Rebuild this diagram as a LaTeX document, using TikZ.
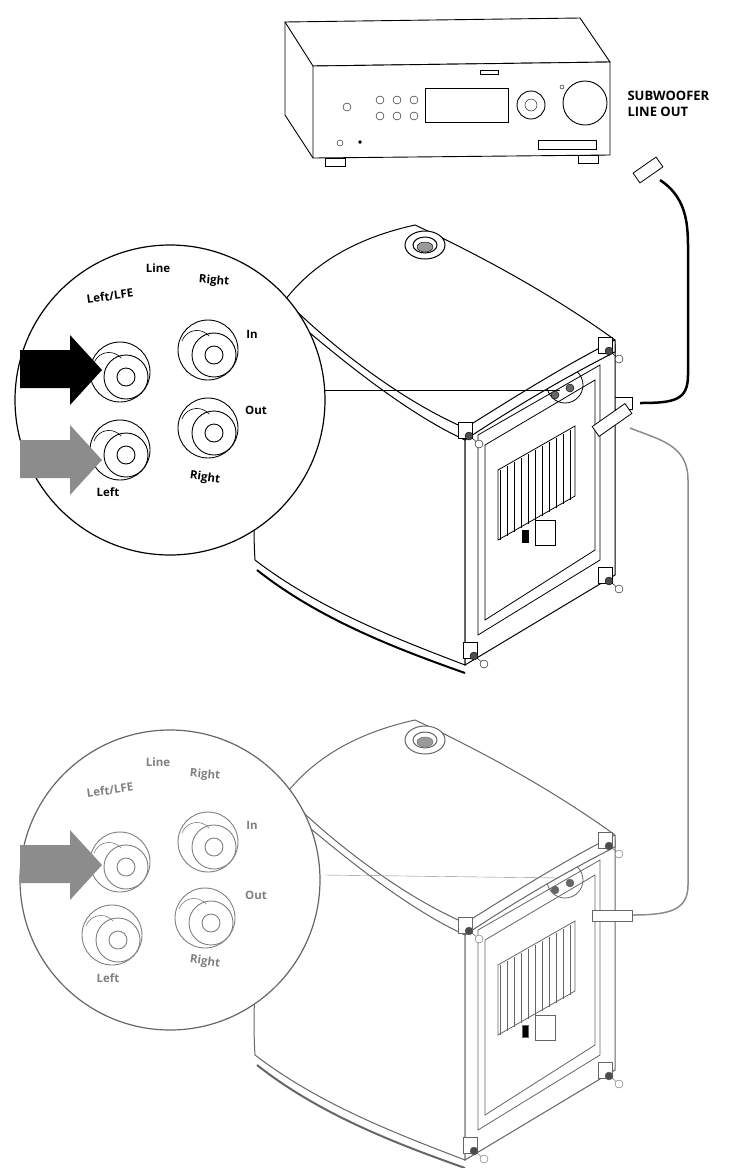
\documentclass[tikz,border=0pt]{standalone}
\usepackage{fontspec}
\setmainfont{Open Sans}
\begin{document}
\begin{tikzpicture}[x=1pt,y=-1pt,
  lbl/.style={font=\bfseries\fontsize{11.5}{13}\selectfont},
  line/.style={line width=0.8pt},
  jack/.pic={\draw[line width=0.9pt,fill=white] (0,0) circle (30);
    \draw[line width=0.9pt,fill=white] (6,5) circle (22);
    \draw[line width=0.9pt] (6,5) circle (9);
    \draw[line width=0.6pt] (-26,-9) arc (200:320:16);},
  foot/.pic={\draw[fill=white,line width=0.8pt] (-7,-8) rectangle (7,8);
    \draw[fill=black!70] (4,6) circle (4); \draw (7,8) -- (14,14); \draw[fill=white] (14,14) circle (4);},
  sub/.pic={
    \draw[line width=1pt,fill=white] (285,300) .. controls (265,400) and (250,480) .. (255,560)
      .. controls (320,610) and (400,640) .. (465,665) -- (465,430)
      .. controls (400,400) and (330,340) .. (285,300);
    \draw[line width=2pt] (257,570) .. controls (320,620) and (400,650) .. (465,673);
    \draw[line width=1pt,fill=white] (465,430) -- (615,345) -- (615,575) -- (465,665) -- cycle;
    \draw[line width=0.8pt] (478,435) -- (600,365) -- (600,560) -- (478,635) -- cycle;
    \draw[line width=0.8pt] (485,445) -- (595,380) -- (595,550) -- (485,620) -- cycle;
    \foreach \i in {0,...,10}{\draw[line width=0.6pt] (500+\i*7,470-\i*4) -- (500+\i*7,540-\i*4);}
    \draw[line width=0.8pt] (498,470) -- (575,426) -- (575,496) -- (498,540) -- cycle;
    \draw[fill=white,line width=0.8pt] (535,520) rectangle (555,545);
    \draw[fill=black] (522,530) rectangle (528,542);
    \draw[line width=0.8pt] (565,385) circle (18);
    \foreach \p in {(555,380),(570,372),(555,395),(570,388)} \draw[fill=black!60] \p circle (4);
    \draw[line width=1pt,fill=white] (285,300) .. controls (320,255) and (370,235) .. (415,225)
      .. controls (490,260) and (560,300) .. (615,340) -- (615,352)
      .. controls (560,380) and (510,410) .. (465,440)
      .. controls (400,410) and (330,350) .. (285,312) -- cycle;
    \draw[line width=1pt] (285,300) .. controls (330,345) and (400,400) .. (465,428)
      .. controls (510,400) and (560,368) .. (615,340);
    \draw[line width=1pt,fill=white] (425,245) ellipse (20 and 14);
    \draw[line width=1pt,fill=white] (425,245) ellipse (12 and 8);
    \draw[fill=black!40] (425,247) ellipse (8 and 5);
    \pic at (465,430) {foot}; \pic at (605,345) {foot};
    \pic at (605,575) {foot}; \pic at (470,650) {foot};
  }]
\useasboundingbox (0,0) rectangle (746,1168);
% receiver
\draw[line width=0.9pt,fill=white] (285,22) -- (580,18) -- (610,62) -- (313,66) -- cycle;
\draw[line width=0.9pt,fill=white] (313,66) -- (610,62) -- (610,155) -- (313,158) -- cycle;
\draw[line width=0.9pt] (285,22) -- (285,115) -- (313,158);
\draw[fill=white] (325,158) rectangle (345,166); \draw[fill=white] (578,155) rectangle (598,163);
\draw (347,107) circle (4); \draw (340,143) circle (3); \draw[fill=black] (360,142) circle (1.5);
\foreach \x in {380,397,414}{\draw (\x,100) circle (4); \draw (\x,116) circle (4);}
\draw[line width=0.9pt] (425,88) rectangle (508,122);
\draw[line width=0.9pt] (531,105) circle (14); \draw (531,105) circle (6);
\draw[line width=0.9pt] (585,103) circle (22); \draw (562,87) circle (2);
\draw (538,140) rectangle (596,149); \draw (480,70) rectangle (498,74);
\node[font=\bfseries\fontsize{13}{16}\selectfont,anchor=west,align=left] (txt) at (624,104) {SUBWOOFER\\LINE OUT};
% cables
\draw[line width=2.5pt] (660,180) .. controls (690,200) and (688,230) .. (688,260) -- (688,375)
  .. controls (688,400) and (675,403) .. (640,403);
\draw[line width=0.8pt,fill=white,rotate around={35:(648,170)}] (634,164) rectangle (662,176);
\draw[line width=0.8pt,fill=white] (592,397) rectangle (632,409);
\draw[line width=1.5pt,black!45] (630,428) .. controls (660,440) and (688,445) .. (688,480) -- (688,885)
  .. controls (688,910) and (670,915) .. (632,915);
% sub 1
\pic {sub};
\draw[line width=0.8pt,fill=white,rotate around={35:(612,420)}] (592,414) rectangle (632,426);
\draw (325,390) -- (560,390);
\draw[line width=1.2pt,fill=white] (170,400) circle (155);
\node[lbl] (l1) at (158,268) {Line};
\node[lbl,rotate=8] (l2) at (110,296) {Left/LFE};
\node[lbl,rotate=-5] (l3) at (214,281) {Right};
\node[lbl] (l4) at (252,334) {In};
\node[lbl] (l5) at (256,410) {Out};
\node[lbl,rotate=-8] (l6) at (205,478) {Right};
\node[lbl] (l7) at (108,492) {Left};
\pic at (120,372) {jack}; \pic at (208,350) {jack};
\pic at (120,450) {jack}; \pic at (208,428) {jack};
\fill[black] (20,350) -- (70,350) -- (70,335) -- (102,370) -- (70,405) -- (70,388) -- (20,388) -- cycle;
\fill[black!45] (20,440) -- (70,440) -- (70,425) -- (102,460) -- (70,495) -- (70,478) -- (20,478) -- cycle;
% sub 2
\begin{scope}[yshift=-495pt,black!60]
\pic {sub};
\end{scope}
\draw[black!45] (325,875) -- (560,878);
\draw[line width=1.2pt,black!60,fill=white] (170,880) circle (150);
\begin{scope}[black!50]
\node[lbl,text=black!50] (m1) at (158,762) {Line};
\node[lbl,text=black!50,rotate=8] (m2) at (110,790) {Left/LFE};
\node[lbl,text=black!50,rotate=-5] (m3) at (205,775) {Right};
\node[lbl,text=black!50] (m4) at (252,825) {In};
\node[lbl,text=black!50] (m5) at (256,895) {Out};
\node[lbl,text=black!50,rotate=-8] (m6) at (205,962) {Right};
\node[lbl,text=black!50] (m7) at (108,978) {Left};
\pic at (120,862) {jack}; \pic at (208,842) {jack};
\pic at (112,935) {jack}; \pic at (205,918) {jack};
\end{scope}
\fill[black!45] (20,845) -- (70,845) -- (70,830) -- (102,865) -- (70,900) -- (70,883) -- (20,883) -- cycle;
\draw[line width=0.8pt,black!60,fill=white] (592,910) rectangle (632,921);
\end{tikzpicture}
\end{document}
